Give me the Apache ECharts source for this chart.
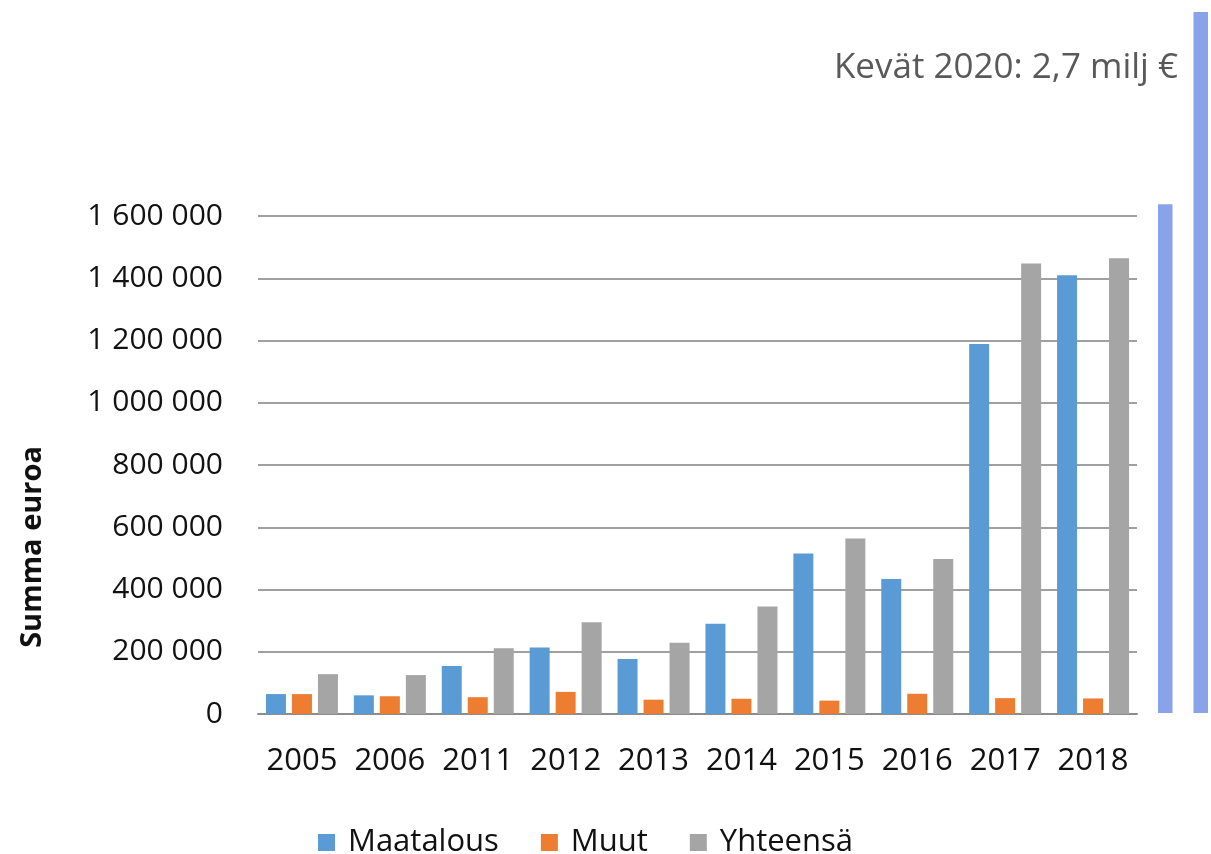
<!DOCTYPE html>
<html>
<head>
<meta charset="utf-8">
<script src="https://cdn.jsdelivr.net/npm/echarts@6/dist/echarts.min.js"></script>
<style>
html, body { margin: 0; padding: 0; background: #fff; }
#chart { width: 1211px; height: 854px; }
</style>
</head>
<body>
<div id="chart"></div>
<script>
// vuodet
var years = ['2005', '2006', '2011', '2012', '2013', '2014', '2015', '2016', '2017', '2018'];
// summat euroina
var maatalous = [64000, 60000, 154000, 214000, 177000, 290000, 516000, 434000, 1189000, 1410000];
var muut = [64000, 57000, 54000, 71000, 46000, 49000, 43000, 65000, 51000, 50000];
var yhteensa = [128000, 125000, 211000, 295000, 229000, 345000, 564000, 498000, 1447000, 1464000];
var seriesNames = ['Maatalous', 'Muut', 'Yhteensä'];
// oikean reunan palkit (kevät 2020)
var overlayCats = ['a'];
var overlayA = [1960000];
var overlayB = [2700000];

var font = '"Open Sans", "DejaVu Sans", sans-serif';

function fmt(v) {
	return String(v).replace(/\B(?=(\d{3})+(?!\d))/g, ' ');
}

var chart = echarts.init(document.getElementById('chart'));
var option = {
	animation: false,
	textStyle: { fontFamily: font },
	grid: [
		{ left: 258, right: 74, top: 216, bottom: 140 },
		{ left: 1158, right: 3, top: 12, bottom: 141 }
	],
	legend: {
		data: seriesNames,
		top: 822,
		left: 313,
		itemWidth: 17,
		itemHeight: 17,
		itemGap: 42,
		icon: 'rect',
		textStyle: { fontSize: 31, color: '#111', fontFamily: font, padding: [0, 0, 0, 8] }
	},
	xAxis: [{
		type: 'category',
		gridIndex: 0,
		data: years,
		axisLine: { lineStyle: { color: '#8c8c8c', width: 2 } },
		axisTick: { length: 12, lineStyle: { color: '#8c8c8c', width: 2 } },
		axisLabel: { interval: 0, fontSize: 31, color: '#111', margin: 32, fontFamily: font }
	}, {
		type: 'category',
		gridIndex: 1,
		data: overlayCats,
		show: false
	}],
	yAxis: [{
		type: 'value',
		gridIndex: 0,
		min: 0,
		max: 1600000,
		interval: 200000,
		axisLine: { show: false },
		axisTick: { show: false },
		splitLine: { lineStyle: { color: '#a0a0a0', width: 2 } },
		axisLabel: {
			fontSize: 30,
			color: '#111',
			margin: 35,
			fontFamily: font,
			formatter: fmt
		}
	}, {
		type: 'value',
		gridIndex: 1,
		min: 0,
		max: 2700000,
		show: false
	}],
	series: [{
		name: seriesNames[0],
		type: 'bar',
		data: maatalous,
		barWidth: 20,
		barGap: '30%',
		itemStyle: { color: '#5b9bd5' }
	}, {
		name: seriesNames[1],
		type: 'bar',
		data: muut,
		barWidth: 20,
		barGap: '30%',
		itemStyle: { color: '#ed7d31' }
	}, {
		name: seriesNames[2],
		type: 'bar',
		data: yhteensa,
		barWidth: 20,
		barGap: '30%',
		itemStyle: { color: '#a5a5a5' }
	}, {
		type: 'bar',
		xAxisIndex: 1,
		yAxisIndex: 1,
		data: overlayA,
		barWidth: 16,
		barGap: '131%',
		itemStyle: { color: '#88a3ea' }
	}, {
		type: 'bar',
		xAxisIndex: 1,
		yAxisIndex: 1,
		data: overlayB,
		barWidth: 16,
		barGap: '131%',
		itemStyle: { color: '#88a3ea' }
	}],
	graphic: [{
		type: 'text',
		left: 18,
		top: 446,
		rotation: Math.PI / 2,
		style: {
			text: 'Summa euroa',
			fontSize: 29,
			fontWeight: 'bold',
			fontFamily: font,
			fill: '#111'
		}
	}, {
		type: 'text',
		right: 33,
		top: 51,
		style: {
			text: 'Kevät 2020: 2,7 milj €',
			fontSize: 35,
			fontFamily: font,
			fill: '#595959'
		}
	}]
};
chart.setOption(option);
</script>
</body>
</html>
